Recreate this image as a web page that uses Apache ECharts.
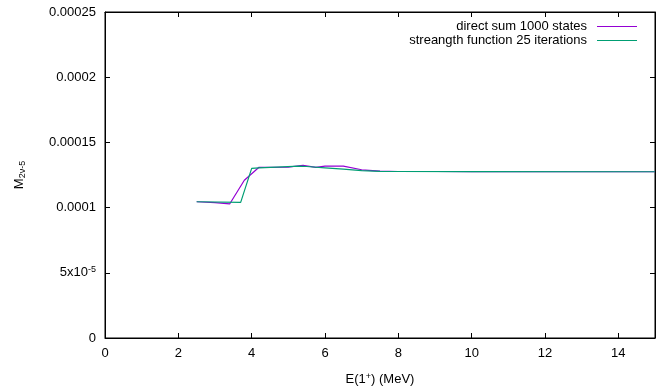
<!DOCTYPE html>
<html><head><meta charset="utf-8">
<script src="https://cdn.jsdelivr.net/npm/echarts@6/dist/echarts.min.js"></script>
<style>html,body{margin:0;padding:0;background:#fff}#c{width:662px;height:387px}</style>
</head><body><div id="c"></div>
<script>
var directX = [2.5, 3.0, 3.4, 3.8, 4.2, 5.0, 5.4, 5.75, 6.0, 6.5, 7.0, 7.5, 8.0, 9.0, 10.0, 12.0, 15.0];
var directY = [0.0001045, 0.0001038, 0.0001028, 0.000121, 0.0001309, 0.000131, 0.0001325, 0.0001308, 0.0001318, 0.0001318, 0.000129, 0.000128, 0.0001277, 0.0001277, 0.0001276, 0.0001275, 0.0001275];
var strengthX = [2.5, 3.7, 4.0, 4.2, 5.3, 5.5, 6.0, 6.5, 7.0, 7.5, 8.0, 10.0, 15.0];
var strengthY = [0.0001045, 0.000104, 0.0001301, 0.0001305, 0.0001318, 0.0001315, 0.0001305, 0.0001295, 0.0001283, 0.0001278, 0.0001277, 0.0001276, 0.0001275];
var seriesNames = ['direct sum 1000 states', 'streangth function 25 iterations'];
var seriesColors = ['#9400d3', '#009e73'];
var yTickLabels = {'0':'0','0.00005':'5x10{sup|-5}','0.0001':'0.0001','0.00015':'0.00015','0.0002':'0.0002','0.00025':'0.00025'};

function pairs(xs, ys){ return xs.map(function(x,i){return [x, ys[i]];}); }
var font = 'Liberation Sans, Arial, sans-serif';
var chart = echarts.init(document.getElementById('c'));
var axisLineStyle = {color:'#000', width:1};
chart.setOption({
  animation:false,
  textStyle:{fontFamily:font},
  grid:{left:105, right:7, top:12, bottom:49, containLabel:false, outerBoundsMode:'none',
    show:true, borderColor:'#000', borderWidth:1, backgroundColor:'transparent'},
  legend:{
    right:25, top:20, orient:'vertical', align:'right', itemGap:1, padding:0,
    itemWidth:40, itemHeight:1, icon:'rect',
    textStyle:{fontSize:13, color:'#000', fontFamily:font, padding:[0,5,0,0]},
    data:seriesNames.map(function(n,i){ return {name:n, itemStyle:{color:seriesColors[i]}}; })
  },
  xAxis:[{
    type:'value', min:0, max:15, interval:2,
    axisLine:{show:true, onZero:false, lineStyle:axisLineStyle},
    axisTick:{show:true, inside:true, length:5, lineStyle:axisLineStyle},
    splitLine:{show:false},
    axisLabel:{color:'#000', fontSize:13, margin:9, fontFamily:font,
      formatter:function(v){ return v===15 ? '' : String(v); }},
    name:'E(1{sup|+}) (MeV)', nameLocation:'middle', nameGap:34,
    nameTextStyle:{color:'#000', fontSize:13, fontFamily:font,
      rich:{sup:{fontSize:9, verticalAlign:'top', padding:[0,0,6,0], color:'#000'}}}
  },{
    type:'value', position:'top', min:0, max:15, interval:2,
    axisLine:{show:true, onZero:false, lineStyle:axisLineStyle},
    axisTick:{show:true, inside:true, length:5, lineStyle:axisLineStyle},
    axisLabel:{show:false}, splitLine:{show:false}
  }],
  yAxis:[{
    type:'value', min:0, max:0.00025, interval:0.00005,
    axisLine:{show:true, onZero:false, lineStyle:axisLineStyle},
    axisTick:{show:true, inside:true, length:5, lineStyle:axisLineStyle},
    splitLine:{show:false},
    axisLabel:{color:'#000', fontSize:13, margin:9, fontFamily:font,
      formatter:function(v){ var k = String(+v.toPrecision(6)); if(k==='5e-5') k='0.00005'; return yTickLabels[k]!==undefined?yTickLabels[k]:k; },
      rich:{sup:{fontSize:9, verticalAlign:'top', padding:[0,0,7,0], color:'#000'}}},
    name:'{m|M}{s|2ν-5}', nameLocation:'middle', nameGap:78, nameRotate:90,
    nameTextStyle:{color:'#000', fontSize:13, fontFamily:font,
      rich:{m:{fontSize:13, color:'#000'}, s:{fontSize:9, color:'#000', padding:[7,0,0,0]}}}
  },{
    type:'value', position:'right', min:0, max:0.00025, interval:0.00005,
    axisLine:{show:true, onZero:false, lineStyle:axisLineStyle},
    axisTick:{show:true, inside:true, length:5, lineStyle:axisLineStyle},
    axisLabel:{show:false}, splitLine:{show:false}
  }],
  series:[{
    name:seriesNames[0], type:'line', xAxisIndex:0, yAxisIndex:0, showSymbol:false, symbol:'none',
    lineStyle:{color:seriesColors[0], width:1.2}, itemStyle:{color:seriesColors[0]},
    data:pairs(directX, directY)
  },{
    name:seriesNames[1], type:'line', xAxisIndex:0, yAxisIndex:0, showSymbol:false, symbol:'none',
    lineStyle:{color:seriesColors[1], width:1.2}, itemStyle:{color:seriesColors[1]},
    data:pairs(strengthX, strengthY)
  },{
    name:'_mirror', type:'line', xAxisIndex:1, yAxisIndex:1, data:[], silent:true
  }]
});
</script></body></html>
